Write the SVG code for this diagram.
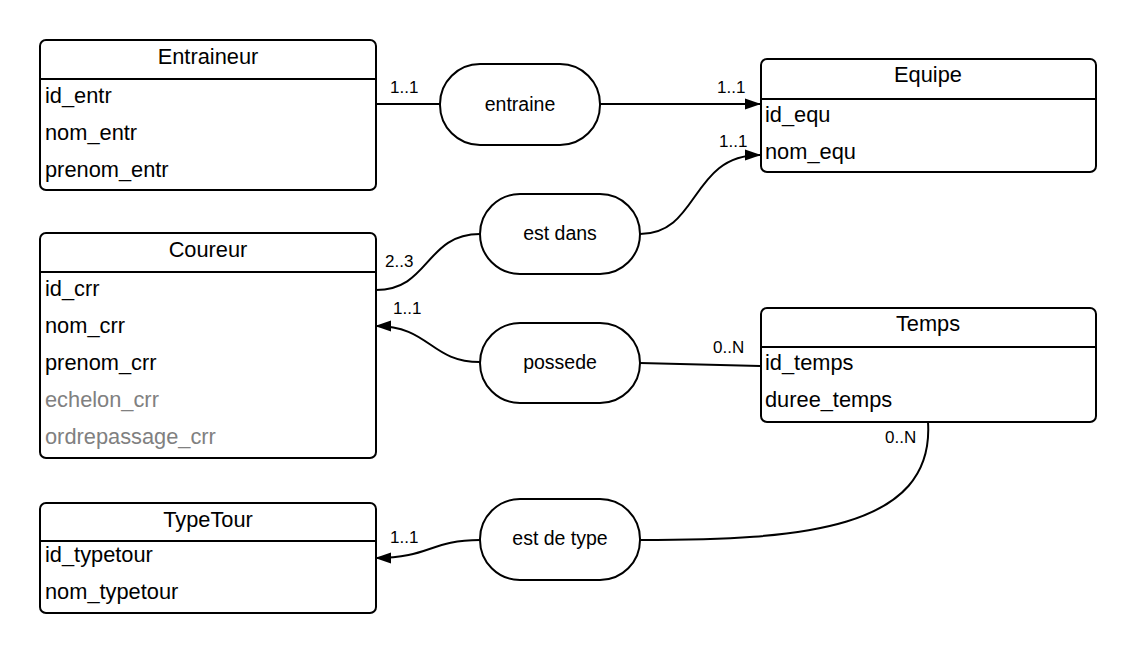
<svg xmlns="http://www.w3.org/2000/svg" width="1136" height="654" viewBox="0 0 1136 654">
<defs>
<marker id="arr" markerWidth="16" markerHeight="12" refX="15" refY="6" orient="auto" markerUnits="userSpaceOnUse">
<path d="M0,0.5 L16,6 L0,11.5 Z" fill="#000"/>
</marker>
<style>
.box{fill:#fff;stroke:#000;stroke-width:2}
.sep{stroke:#000;stroke-width:2}
.title{font-family:"Liberation Sans",Arial,sans-serif;font-size:21.8px;text-anchor:middle;fill:#000}
.attr{font-family:"Liberation Sans",Arial,sans-serif;font-size:21.8px;fill:#000}
.grey{fill:#808080}
.rel{fill:#fff;stroke:#000;stroke-width:2}
.rtxt{font-family:"Liberation Sans",Arial,sans-serif;font-size:19.5px;text-anchor:middle;fill:#000}
.card{font-family:"Liberation Sans",Arial,sans-serif;font-size:17px;fill:#000}
.con{fill:none;stroke:#000;stroke-width:2}
</style>
</defs>
<rect width="1136" height="654" fill="#fff"/>
<g id="connectors">
<path class="con" d="M376,104 L440,104"/>
<path class="con" d="M600,104 L760,104" marker-end="url(#arr)"/>
<path class="con" d="M640,234 C700,234 690,155 760,155" marker-end="url(#arr)"/>
<path class="con" d="M376,290 C430,290 425,234 480,234"/>
<path class="con" d="M480,362 C430,362 430,326 376,326" marker-end="url(#arr)"/>
<path class="con" d="M640,363 L760,366"/>
<path class="con" d="M928,422 C935,530 800,540 640,540"/>
<path class="con" d="M480,540 C430,540 430,558 376,558" marker-end="url(#arr)"/>
<text class="card" x="390" y="93">1..1</text>
<text class="card" x="717" y="93">1..1</text>
<text class="card" x="719" y="147">1..1</text>
<text class="card" x="385" y="267">2..3</text>
<text class="card" x="393" y="314">1..1</text>
<text class="card" x="713" y="353">0..N</text>
<text class="card" x="885" y="443">0..N</text>
<text class="card" x="390" y="543">1..1</text>
</g>
<g id="entraineur">
<rect class="box" x="40" y="40" width="336" height="150" rx="6"/>
<line class="sep" x1="40" y1="79" x2="376" y2="79"/>
<text class="title" x="208" y="64">Entraineur</text>
<text class="attr" x="45" y="103">id_entr</text>
<text class="attr" x="45" y="140">nom_entr</text>
<text class="attr" x="45" y="177">prenom_entr</text>
</g>
<g id="equipe">
<rect class="box" x="761" y="59" width="335" height="113" rx="6"/>
<line class="sep" x1="761" y1="99" x2="1096" y2="99"/>
<text class="title" x="928" y="82">Equipe</text>
<text class="attr" x="765" y="122">id_equ</text>
<text class="attr" x="765" y="159">nom_equ</text>
</g>
<g id="coureur">
<rect class="box" x="40" y="233" width="336" height="225" rx="6"/>
<line class="sep" x1="40" y1="272" x2="376" y2="272"/>
<text class="title" x="208" y="257">Coureur</text>
<text class="attr" x="45" y="296">id_crr</text>
<text class="attr" x="45" y="333">nom_crr</text>
<text class="attr" x="45" y="370">prenom_crr</text>
<text class="attr grey" x="45" y="407">echelon_crr</text>
<text class="attr grey" x="45" y="444">ordrepassage_crr</text>
</g>
<g id="temps">
<rect class="box" x="761" y="308" width="335" height="114" rx="6"/>
<line class="sep" x1="761" y1="347" x2="1096" y2="347"/>
<text class="title" x="928" y="331">Temps</text>
<text class="attr" x="765" y="370">id_temps</text>
<text class="attr" x="765" y="407">duree_temps</text>
</g>
<g id="typetour">
<rect class="box" x="40" y="503" width="336" height="110" rx="6"/>
<line class="sep" x1="40" y1="541" x2="376" y2="541"/>
<text class="title" x="208" y="527">TypeTour</text>
<text class="attr" x="45" y="562">id_typetour</text>
<text class="attr" x="45" y="599">nom_typetour</text>
</g>
<g id="entraine">
<rect class="rel" x="440" y="64" width="160" height="81" rx="40"/>
<text class="rtxt" x="520" y="111">entraine</text>
</g>
<g id="est-dans">
<rect class="rel" x="480" y="194" width="160" height="80" rx="40"/>
<text class="rtxt" x="560" y="240">est dans</text>
</g>
<g id="possede">
<rect class="rel" x="480" y="323" width="160" height="80" rx="40"/>
<text class="rtxt" x="560" y="369">possede</text>
</g>
<g id="est-de-type">
<rect class="rel" x="480" y="499" width="160" height="81" rx="40"/>
<text class="rtxt" x="560" y="545">est de type</text>
</g>
</svg>
